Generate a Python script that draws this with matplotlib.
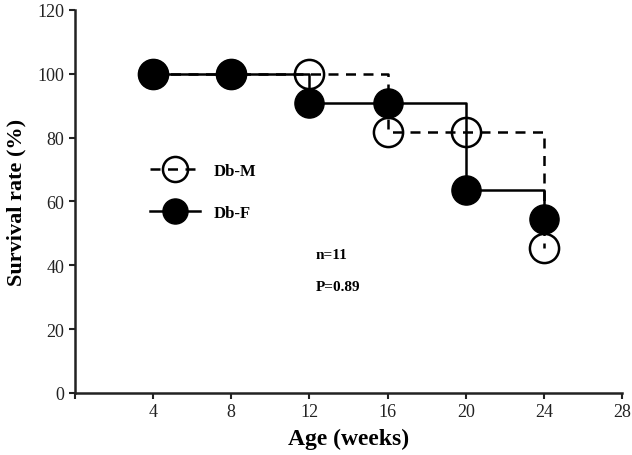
import matplotlib
matplotlib.use("Agg")
import matplotlib.pyplot as plt

weeks = [4, 8, 12, 16, 20, 24]
db_m = [100, 100, 100, 81.8, 81.8, 45.5]
db_f = [100, 100, 90.9, 90.9, 63.6, 54.5]
xticks = [0, 4, 8, 12, 16, 20, 24, 28]
xticklabels = ["", "4", "8", "12", "16", "20", "24", "28"]
yticks = [0, 20, 40, 60, 80, 100, 120]

plt.rcParams["font.family"] = ["Liberation Serif", "DejaVu Serif"]

fig = plt.figure(figsize=(6.32, 4.56), dpi=100)
ax = fig.add_axes([0.1187, 0.136, 0.8655, 0.840])

ax.step(weeks, db_m, where="post", color="black", lw=1.8, ls=(0, (4, 3)),
        marker="o", ms=21, mfc="none", mec="black", mew=1.8, label="Db-M", zorder=2)
ax.step(weeks, db_f, where="post", color="black", lw=1.8, ls="-",
        marker="o", ms=21, mfc="black", mec="black", label="Db-F", zorder=3)

ax.set_xlim(0, 28)
ax.set_ylim(0, 120)
ax.set_xticks(xticks)
ax.set_xticklabels(xticklabels)
ax.set_yticks(yticks)
ax.tick_params(direction="out", length=4, width=1.5, labelsize=13, color="#222222",
               labelcolor="#222222")
for s in ["top", "right"]:
    ax.spines[s].set_visible(False)
for s in ["left", "bottom"]:
    ax.spines[s].set_linewidth(1.8)
    ax.spines[s].set_color("#222222")

ax.set_xlabel("Age (weeks)", fontsize=17, fontweight="bold", labelpad=5)
ax.set_ylabel("Survival rate (%)", fontsize=16, fontweight="bold", labelpad=8)

leg = ax.legend(loc="center left", bbox_to_anchor=(0.137, 0.525), frameon=False,
                handlelength=3.0, handletextpad=0.8, markerscale=0.86,
                labelspacing=1.6, borderpad=0, borderaxespad=0,
                prop={"weight": "bold", "size": 12})

ax.text(12.3, 43.5, "n=11", fontsize=11, fontweight="bold", ha="left", va="center")
ax.text(12.3, 33.5, "P=0.89", fontsize=11, fontweight="bold", ha="left", va="center")

fig.savefig("out.png", dpi=100)
